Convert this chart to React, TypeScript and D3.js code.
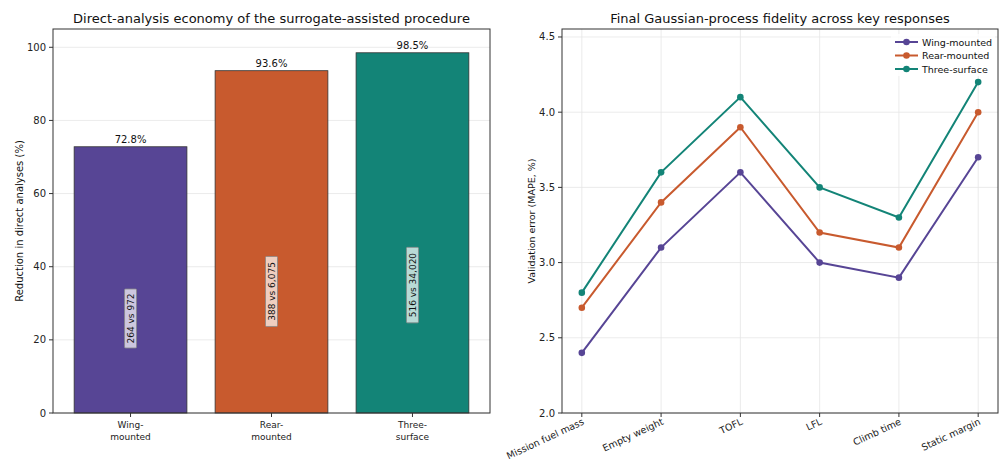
import React from "react";
import * as d3 from "d3";

const configs = ["Wing-mounted", "Rear-mounted", "Three-surface"];
const configLines = [["Wing-", "mounted"], ["Rear-", "mounted"], ["Three-", "surface"]];
const reductions = [72.8, 93.6, 98.5];
const countLabels = ["264 vs 972", "388 vs 6,075", "516 vs 34,020"];
const colors = ["#574595", "#c85a2e", "#138477"];
const barTicks = [0, 20, 40, 60, 80, 100];

const responses = ["Mission fuel mass", "Empty weight", "TOFL", "LFL", "Climb time", "Static margin"];
const wingErr = [2.4, 3.1, 3.6, 3.0, 2.9, 3.7];
const rearErr = [2.7, 3.4, 3.9, 3.2, 3.1, 4.0];
const threeErr = [2.8, 3.6, 4.1, 3.5, 3.3, 4.2];
const errTicks = [2.0, 2.5, 3.0, 3.5, 4.0, 4.5];

const FONT = "DejaVu Sans, sans-serif";
const AX = "#333";
const GRID = "#e6e6e6";

export default function App() {
  // left panel
  const L = { x0: 53, x1: 490, y0: 29, y1: 413 };
  const xb = d3.scaleLinear().domain([-0.55, 2.55]).range([L.x0, L.x1]);
  const yb = d3.scaleLinear().domain([0, 105]).range([L.y1, L.y0]);
  const bw = xb(0.4) - xb(-0.4);

  // right panel
  const R = { x0: 562, x1: 998, y0: 29, y1: 413 };
  const xl = d3.scaleLinear().domain([-0.25, 5.25]).range([R.x0, R.x1]);
  const yl = d3.scaleLinear().domain([2.0, 4.553]).range([R.y1, R.y0]);
  const series = [wingErr, rearErr, threeErr];
  const line = d3.line<number>().x((_, i) => xl(i)).y((d) => yl(d));

  return (
    <svg width={1003} height={460} style={{ position: "absolute", left: 0, top: 0, background: "#fff" }} fontFamily={FONT}>
      {/* LEFT */}
      <text x={(L.x0 + L.x1) / 2} y={23} textAnchor="middle" fontSize={13} fill="#111">
        Direct-analysis economy of the surrogate-assisted procedure
      </text>
      {barTicks.map((t) => (
        <g key={t}>
          <line x1={L.x0} x2={L.x1} y1={yb(t)} y2={yb(t)} stroke={GRID} strokeWidth={0.8} />
          <line x1={L.x0 - 4} x2={L.x0} y1={yb(t)} y2={yb(t)} stroke={AX} />
          <text x={L.x0 - 7} y={yb(t) + 3.5} textAnchor="end" fontSize={10} fill="#222">{t}</text>
        </g>
      ))}
      {reductions.map((v, i) => (
        <g key={i}>
          <rect x={xb(i) - bw / 2} y={yb(v)} width={bw} height={yb(0) - yb(v)} fill={colors[i]} stroke="#333" strokeWidth={0.8} />
          <text x={xb(i)} y={yb(v) - 4} textAnchor="middle" fontSize={10} fill="#111">{v.toFixed(1)}%</text>
        </g>
      ))}
      {reductions.map((v, i) => {
        const cy = yb(v * 0.355);
        const txtLen = countLabels[i].length * 5.5;
        return (
          <g key={"c" + i} transform={`translate(${xb(i)},${cy}) rotate(-90)`}>
            <rect x={-txtLen / 2 - 2} y={-6} width={txtLen + 4} height={12} fill="#fff" fillOpacity={0.7} stroke="#888" strokeWidth={0.8} rx={1} />
            <text x={0} y={3.5} textAnchor="middle" fontSize={9} fill="#111">{countLabels[i]}</text>
          </g>
        );
      })}
      {configLines.map((ls, i) => (
        <g key={"x" + i}>
          <line x1={xb(i)} x2={xb(i)} y1={L.y1} y2={L.y1 + 4} stroke={AX} />
          {ls.map((s, j) => (
            <text key={j} x={xb(i)} y={L.y1 + 15 + j * 11.5} textAnchor="middle" fontSize={9} fill="#222">{s}</text>
          ))}
        </g>
      ))}
      <rect x={L.x0} y={L.y0} width={L.x1 - L.x0} height={L.y1 - L.y0} fill="none" stroke={AX} strokeWidth={1} />
      <text transform={`translate(23,${(L.y0 + L.y1) / 2}) rotate(-90)`} textAnchor="middle" fontSize={10} fill="#111">
        Reduction in direct analyses (%)
      </text>

      {/* RIGHT */}
      <text x={(R.x0 + R.x1) / 2} y={23} textAnchor="middle" fontSize={13} fill="#111">
        Final Gaussian-process fidelity across key responses
      </text>
      {errTicks.map((t) => (
        <g key={t}>
          <line x1={R.x0} x2={R.x1} y1={yl(t)} y2={yl(t)} stroke={GRID} strokeWidth={0.8} />
          <line x1={R.x0 - 4} x2={R.x0} y1={yl(t)} y2={yl(t)} stroke={AX} />
          <text x={R.x0 - 7} y={yl(t) + 3.5} textAnchor="end" fontSize={10} fill="#222">{t.toFixed(1)}</text>
        </g>
      ))}
      {responses.map((r, i) => (
        <g key={r}>
          <line x1={xl(i)} x2={xl(i)} y1={R.y0} y2={R.y1} stroke={GRID} strokeWidth={0.8} />
          <line x1={xl(i)} x2={xl(i)} y1={R.y1} y2={R.y1 + 4} stroke={AX} />
          <text transform={`translate(${xl(i) + 3},${R.y1 + 11}) rotate(-25)`} textAnchor="end" fontSize={9.5} fill="#222">{r}</text>
        </g>
      ))}
      {series.map((s, k) => (
        <g key={"s" + k}>
          <path d={line(s) || ""} fill="none" stroke={colors[k]} strokeWidth={2} />
          {s.map((v, i) => (
            <circle key={i} cx={xl(i)} cy={yl(v)} r={3.3} fill={colors[k]} />
          ))}
        </g>
      ))}
      <rect x={R.x0} y={R.y0} width={R.x1 - R.x0} height={R.y1 - R.y0} fill="none" stroke={AX} strokeWidth={1} />
      <rect x={891} y={34} width={104} height={42} fill="#fff" fillOpacity={0.8} />
      {configs.map((c, k) => (
        <g key={"l" + k}>
          <line x1={895} x2={918} y1={42 + k * 13.5} y2={42 + k * 13.5} stroke={colors[k]} strokeWidth={2} />
          <circle cx={906.5} cy={42 + k * 13.5} r={3.3} fill={colors[k]} />
          <text x={922} y={42 + k * 13.5 + 3.5} fontSize={9.5} fill="#111">{c}</text>
        </g>
      ))}
      <text transform={`translate(535,${(R.y0 + R.y1) / 2}) rotate(-90)`} textAnchor="middle" fontSize={9.5} fill="#111">
        Validation error (MAPE, %)
      </text>
    </svg>
  );
}
